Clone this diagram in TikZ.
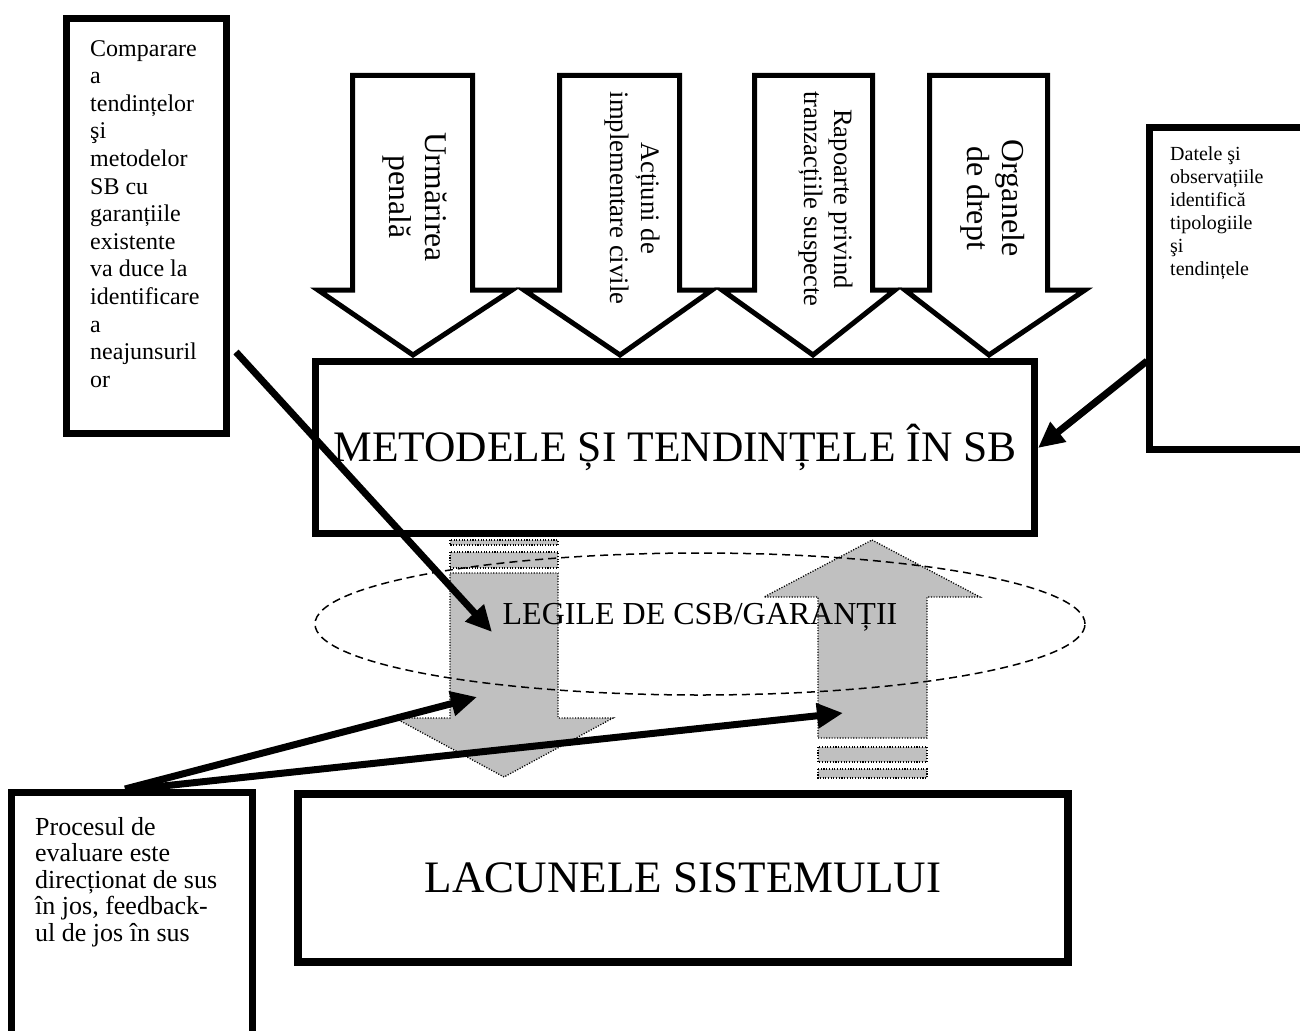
\documentclass[tikz,border=0pt]{standalone}
\usepackage{fontspec}
\setmainfont{Liberation Serif}
\usetikzlibrary{arrows.meta}
\definecolor{greyfill}{RGB}{192,192,192}
\begin{document}
\begin{tikzpicture}[x=1pt,y=-1pt,
  blk/.style={draw=black, fill=white, line width=5pt, line join=miter},
  box/.style={draw=black, fill=white, line width=7pt, inner sep=0pt},
  gar/.style={fill=greyfill, draw=black, line width=1.3pt, dash pattern=on 1.1pt off 1.6pt},
  bla/.style={line width=7pt, -{Triangle[length=26pt,width=24pt]}},
  vtxt/.style={rotate=-90, align=center, inner sep=0pt},
  ptxt/.style={anchor=north west, align=left, inner sep=0pt}]
\fill[white] (0,0) rectangle (1300,1030);
\useasboundingbox (0,0) rectangle (1300,1030);

% top block arrows
\draw[blk] (352.5,75.5) -- (472.5,75.5) -- (472.5,290) -- (512,290) -- (413,355) -- (318,290) -- (352.5,290) -- cycle;
\draw[blk] (559.5,75.5) -- (679.5,75.5) -- (679.5,290) -- (712,290) -- (620,355) -- (524,290) -- (559.5,290) -- cycle;
\draw[blk] (754.5,75.5) -- (872.5,75.5) -- (872.5,290) -- (895,290) -- (813,355) -- (722,290) -- (754.5,290) -- cycle;
\draw[blk] (929.5,75.5) -- (1047.5,75.5) -- (1047.5,290) -- (1085,290) -- (989,355) -- (905,290) -- (929.5,290) -- cycle;
\node[vtxt, font=\fontsize{31.6}{36}\selectfont] (ta1) at (415,197) {Urmărirea\\penală};
\node[vtxt, font=\fontsize{26.7}{31}\selectfont] (ta2) at (632,198) {Acțiuni de\\implementare civile};
\node[vtxt, font=\fontsize{26.6}{30}\selectfont] (ta3) at (826,199) {Rapoarte privind\\tranzacțiile suspecte};
\node[vtxt, font=\fontsize{32}{35}\selectfont] (ta4) at (993,198) {Organele\\de drept};

% main box
\node[box, minimum width=719pt, minimum height=172pt, font=\fontsize{43.5}{48}\selectfont] (met) at (675,447.5) {METODELE ȘI TENDINȚELE ÎN SB};

% side boxes
\node[box, minimum width=160pt, minimum height=415pt] (lbox) at (146.5,226) {};
\node[ptxt, font=\fontsize{24}{27.6}\selectfont] (ltxt) at (90,40) {Comparare\\a\\tendințelor\\şi\\metodelor\\SB cu\\garanțiile\\existente\\va duce la\\identificare\\a\\neajunsuril\\or};
\node[box, minimum width=167pt, minimum height=322pt] (rbox) at (1233,288.5) {};
\node[ptxt, font=\fontsize{20}{23}\selectfont] (rtxt) at (1170,146) {Datele şi\\observațiile\\identifică\\tipologiile\\şi\\tendințele};

% grey arrows
\filldraw[gar] (450,540) rectangle (558,545);
\filldraw[gar] (450,552) rectangle (558,568);
\filldraw[gar] (450,573) -- (558,573) -- (558,718) -- (613,718) -- (504,777) -- (395,718) -- (450,718) -- cycle;
\filldraw[gar] (872,540) -- (980,597) -- (927,597) -- (927,738) -- (818,738) -- (818,597) -- (764,597) -- cycle;
\filldraw[gar] (818,747) rectangle (927,762);
\filldraw[gar] (818,769) rectangle (927,778);

% dashed ellipse and its label
\draw[line width=1.5pt, dash pattern=on 8pt off 5pt] (700,624) ellipse [x radius=385pt, y radius=71pt];
\node[font=\fontsize{32}{36}\selectfont, inner sep=0pt] (leg) at (700,617) {LEGILE DE CSB/GARANȚII};

% bottom boxes
\node[box, line width=8pt, minimum width=770pt, minimum height=168pt, font=\fontsize{45}{50}\selectfont] (lac) at (683,878) {LACUNELE SISTEMULUI};
\node[box, minimum width=241pt, minimum height=249pt] (bbox) at (132,917) {};
\node[ptxt, font=\fontsize{26}{26.5}\selectfont] (btxt) at (35,817) {Procesul de\\evaluare este\\direcționat de sus\\în jos, feedback-\\ul de jos în sus};

% black arrows
\coordinate (s1) at (236,352);
\coordinate (e1) at (492,632);
\coordinate (s2) at (1147,361);
\coordinate (e2) at (1038,448);
\coordinate (s3) at (125,789);
\coordinate (s4) at (135,789);
\coordinate (e3) at (477,697);
\coordinate (e4) at (843,713);
\draw[bla] (s1) -- (e1);
\draw[bla] (s2) -- (e2);
\draw[bla] (s3) -- (e3);
\draw[bla] (s4) -- (e4);
\end{tikzpicture}
\end{document}
